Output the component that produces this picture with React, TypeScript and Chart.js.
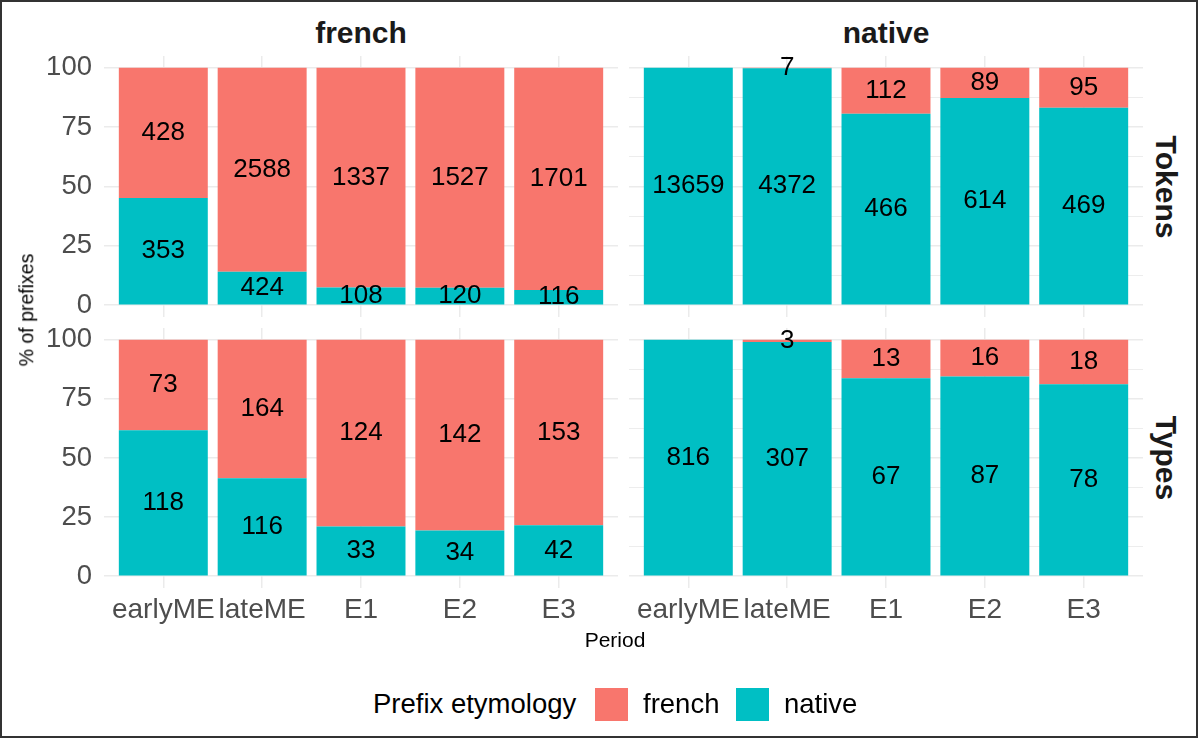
import React, { useEffect, useRef } from 'react';
import { Chart, registerables } from 'chart.js';

Chart.register(...registerables);

// categories and counts
const periods = ['earlyME', 'lateME', 'E1', 'E2', 'E3'];

// row "Tokens"
const tokensFrenchPanelNative = [353, 424, 108, 120, 116];
const tokensFrenchPanelFrench = [428, 2588, 1337, 1527, 1701];
const tokensNativePanelNative = [13659, 4372, 466, 614, 469];
const tokensNativePanelFrench = [0, 7, 112, 89, 95];

// row "Types"
const typesFrenchPanelNative = [118, 116, 33, 34, 42];
const typesFrenchPanelFrench = [73, 164, 124, 142, 153];
const typesNativePanelNative = [816, 307, 67, 87, 78];
const typesNativePanelFrench = [0, 3, 13, 16, 18];

const yMajorTicks = [0, 25, 50, 75, 100];
const yMinorTicks = [12.5, 37.5, 62.5, 87.5];

const FRENCH_COLOR = '#F8766D';
const NATIVE_COLOR = '#00BFC4';
const GRID_COLOR = '#EBEBEB';
const FONT = '"Liberation Sans", Arial, Helvetica, sans-serif';

const Y_AXIS_W = 104;
const X_AXIS_H = 50;

const toPercent = (part: number[], other: number[]) =>
  part.map((v, i) => (100 * v) / (v + other[i]));

// writes each count in the middle of its segment
const countLabels = {
  id: 'countLabels',
  afterDatasetsDraw(chart: any) {
    const ctx = chart.ctx;
    ctx.save();
    ctx.font = `26px ${FONT}`;
    ctx.fillStyle = '#000000';
    ctx.textAlign = 'center';
    ctx.textBaseline = 'middle';
    chart.data.datasets.forEach((ds: any, di: number) => {
      const meta = chart.getDatasetMeta(di);
      meta.data.forEach((bar: any, i: number) => {
        const n = ds.counts[i];
        if (!n) return;
        ctx.fillText(String(n), bar.x, (bar.y + bar.base) / 2);
      });
    });
    ctx.restore();
  },
};

type PanelProps = {
  left: number;
  top: number;
  width: number;
  height: number;
  native: number[];
  french: number[];
  showY: boolean;
  showX: boolean;
};

const FacetPanel: React.FC<PanelProps> = ({ left, top, width, height, native, french, showY, showX }) => {
  const canvasRef = useRef<HTMLCanvasElement>(null);

  useEffect(() => {
    if (!canvasRef.current) return;
    const nativePct = toPercent(native, french);
    const frenchPct = toPercent(french, native);

    const chart = new Chart(canvasRef.current, {
      type: 'bar',
      data: {
        datasets: [
          {
            label: 'native',
            data: periods.map((_, i) => ({ x: i + 1, y: nativePct[i] })),
            backgroundColor: NATIVE_COLOR,
            counts: native,
          } as any,
          {
            label: 'french',
            data: periods.map((_, i) => ({ x: i + 1, y: frenchPct[i] })),
            backgroundColor: FRENCH_COLOR,
            counts: french,
          } as any,
        ],
      },
      options: {
        animation: false,
        responsive: true,
        maintainAspectRatio: false,
        layout: { padding: 0 },
        datasets: { bar: { categoryPercentage: 1, barPercentage: 0.9, borderWidth: 0, inflateAmount: 0 } },
        plugins: { legend: { display: false }, tooltip: { enabled: false } },
        scales: {
          x: {
            type: 'linear',
            stacked: true,
            offset: false,
            min: 0.4,
            max: 5.6,
            afterBuildTicks: (scale: any) => {
              scale.ticks = periods.map((_, i) => ({ value: i + 1 }));
            },
            afterFit: (scale: any) => {
              scale.height = showX ? X_AXIS_H : 0;
              scale.paddingLeft = 0;
              scale.paddingRight = 0;
              scale.paddingTop = 0;
              scale.paddingBottom = 0;
            },
            grid: { color: GRID_COLOR, lineWidth: 1.5, drawTicks: false, offset: false },
            border: { display: false },
            ticks: {
              display: showX,
              autoSkip: false,
              maxRotation: 0,
              minRotation: 0,
              padding: 5,
              color: '#4D4D4D',
              font: { size: 28, family: FONT },
              callback: (v: any) => periods[Math.round(v) - 1] ?? '',
            },
          },
          y: {
            type: 'linear',
            stacked: true,
            min: -5,
            max: 105,
            afterBuildTicks: (scale: any) => {
              scale.ticks = [...yMajorTicks, ...yMinorTicks]
                .sort((a, b) => a - b)
                .map((value) => ({ value }));
            },
            afterFit: (scale: any) => {
              scale.width = showY ? Y_AXIS_W : 0;
              scale.paddingLeft = 0;
              scale.paddingRight = 0;
              scale.paddingTop = 0;
              scale.paddingBottom = 0;
            },
            grid: {
              color: GRID_COLOR,
              lineWidth: (c: any) => (yMajorTicks.includes(c.tick?.value) ? 1.5 : 0.9),
              drawTicks: false,
            },
            border: { display: false },
            ticks: {
              display: showY,
              padding: 12,
              color: '#4D4D4D',
              font: { size: 27.5, family: FONT },
              callback: (v: any) => (yMajorTicks.includes(v) ? String(v) : ''),
            },
          },
        },
      },
      plugins: [countLabels],
    });

    return () => {
      chart.destroy();
    };
  }, [native, french, showX, showY]);

  const boxLeft = showY ? left - Y_AXIS_W : left;
  const boxWidth = showY ? width + Y_AXIS_W : width;
  const boxHeight = showX ? height + X_AXIS_H : height;

  return (
    <div style={{ position: 'absolute', left: boxLeft, top, width: boxWidth, height: boxHeight }}>
      <canvas ref={canvasRef}></canvas>
    </div>
  );
};

const textBase: React.CSSProperties = {
  position: 'absolute',
  fontFamily: FONT,
  whiteSpace: 'nowrap',
  lineHeight: 1,
};

const App: React.FC = () => {
  useEffect(() => {
    document.body.style.margin = '0';
  }, []);

  const colLeft = [104, 629];
  const rowTop = [56, 328];
  const panelW = 514;
  const rowH = [261, 260];

  return (
    <div style={{ position: 'relative', width: 1200, height: 739, background: '#fff', overflow: 'hidden' }}>
      <div
        style={{
          position: 'absolute', left: 0, top: 0, width: 1198, height: 738,
          border: '2px solid #333', boxSizing: 'border-box',
        }}
      />

      <FacetPanel left={colLeft[0]} top={rowTop[0]} width={panelW} height={rowH[0]}
        native={tokensFrenchPanelNative} french={tokensFrenchPanelFrench} showY={true} showX={false} />
      <FacetPanel left={colLeft[1]} top={rowTop[0]} width={panelW} height={rowH[0]}
        native={tokensNativePanelNative} french={tokensNativePanelFrench} showY={false} showX={false} />
      <FacetPanel left={colLeft[0]} top={rowTop[1]} width={panelW} height={rowH[1]}
        native={typesFrenchPanelNative} french={typesFrenchPanelFrench} showY={true} showX={true} />
      <FacetPanel left={colLeft[1]} top={rowTop[1]} width={panelW} height={rowH[1]}
        native={typesNativePanelNative} french={typesNativePanelFrench} showY={false} showX={true} />

      {/* strip labels */}
      <div style={{ ...textBase, left: 361, top: 33, transform: 'translate(-50%, -50%)', fontSize: 30, fontWeight: 'bold', color: '#1A1A1A' }}>french</div>
      <div style={{ ...textBase, left: 886, top: 33, transform: 'translate(-50%, -50%)', fontSize: 30, fontWeight: 'bold', color: '#1A1A1A' }}>native</div>
      <div style={{ ...textBase, left: 1166, top: 186.5, transform: 'translate(-50%, -50%) rotate(90deg)', fontSize: 30, fontWeight: 'bold', color: '#1A1A1A' }}>Tokens</div>
      <div style={{ ...textBase, left: 1166, top: 458, transform: 'translate(-50%, -50%) rotate(90deg)', fontSize: 30, fontWeight: 'bold', color: '#1A1A1A' }}>Types</div>

      {/* axis titles */}
      <div style={{ ...textBase, left: 27, top: 310, transform: 'translate(-50%, -50%) rotate(-90deg)', fontSize: 19.5, color: '#000' }}>% of prefixes</div>
      <div style={{ ...textBase, left: 615, top: 639, transform: 'translate(-50%, -50%)', fontSize: 21, color: '#000' }}>Period</div>

      {/* legend */}
      <div style={{ ...textBase, left: 373, top: 704, transform: 'translateY(-50%)', fontSize: 27.5, color: '#000' }}>Prefix etymology</div>
      <div style={{ position: 'absolute', left: 595, top: 688, width: 33, height: 33, background: FRENCH_COLOR }} />
      <div style={{ ...textBase, left: 643, top: 704, transform: 'translateY(-50%)', fontSize: 27.5, color: '#000' }}>french</div>
      <div style={{ position: 'absolute', left: 736, top: 688, width: 33, height: 33, background: NATIVE_COLOR }} />
      <div style={{ ...textBase, left: 784, top: 704, transform: 'translateY(-50%)', fontSize: 27.5, color: '#000' }}>native</div>
    </div>
  );
};

export default App;
